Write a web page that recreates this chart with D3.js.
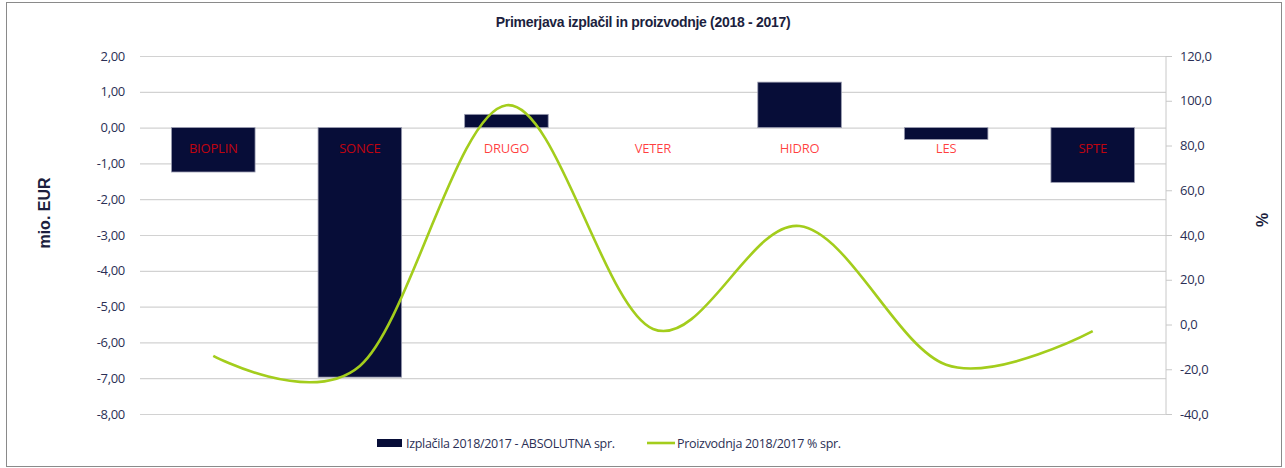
<!DOCTYPE html>
<html>
<head>
<meta charset="utf-8">
<script src="https://cdn.jsdelivr.net/npm/d3@7"></script>
<style>
  html, body { margin: 0; padding: 0; background: #fff; }
</style>
</head>
<body>
<div id="chart"></div>
<script>
const categories = ["BIOPLIN", "SONCE", "DRUGO", "VETER", "HIDRO", "LES", "SPTE"];
const payouts = [-1.24, -6.97, 0.37, 0, 1.27, -0.33, -1.53];      // mio. EUR
const production = [-14, -18.5, 98, -2, 44, -18, -3];             // %
const leftTicks = [2, 1, 0, -1, -2, -3, -4, -5, -6, -7, -8];
const rightTicks = [120, 100, 80, 60, 40, 20, 0, -20, -40];
const seriesNames = ["Izplačila 2018/2017 - ABSOLUTNA spr.", "Proizvodnja 2018/2017 % spr."];
const title = "Primerjava izplačil in proizvodnje (2018  - 2017)";

const W = 1285, H = 468;
const plot = { left: 140, right: 1166, top: 56, bottom: 414 };
const navy = "#070d38", green = "#a3cd1c", txt = "#2b2f55";

const svg = d3.select("#chart").append("svg")
    .attr("width", W).attr("height", H);

svg.append("rect")
    .attr("x", 6.5).attr("y", 2.5).attr("width", 1275).attr("height", 464)
    .attr("fill", "#fff").attr("stroke", "#8a8a8a");

const x = d3.scaleBand().domain(categories).range([plot.left, plot.right]).paddingInner(0.43).paddingOuter(0.215);
const xc = d3.scaleBand().domain(categories).range([plot.left, plot.right]);
const yL = d3.scaleLinear().domain([-8, 2]).range([plot.bottom, plot.top]);
const yR = d3.scaleLinear().domain([-40, 120]).range([plot.bottom, plot.top]);

const fmtL = v => d3.format(".2f")(v).replace(".", ",").replace("−", "-");
const fmtR = v => d3.format(".1f")(v).replace(".", ",").replace("−", "-");

// gridlines + left labels
const gl = svg.append("g").attr("transform", `translate(${plot.left},0)`)
    .call(d3.axisLeft(yL).tickValues(leftTicks).tickSize(-(plot.right - plot.left)).tickPadding(15).tickFormat(fmtL));
gl.select(".domain").remove();
gl.selectAll(".tick line").attr("stroke", "#d2d2d2").attr("stroke-width", 1.2);
gl.selectAll(".tick text").attr("fill", txt).style("font", "13px 'Open Sans', sans-serif").attr("letter-spacing", "-0.3");

// right axis
const gr = svg.append("g").attr("transform", `translate(${plot.right},0)`)
    .call(d3.axisRight(yR).tickValues(rightTicks).tickSize(6).tickPadding(8).tickFormat(fmtR));
gr.select(".domain").attr("stroke", "#c8c8c8").attr("d", `M0,${plot.top}V${plot.bottom}`);
gr.selectAll(".tick line").attr("stroke", "#c8c8c8");
gr.selectAll(".tick text").attr("fill", txt).style("font", "13px 'Open Sans', sans-serif").attr("letter-spacing", "-0.3");

// bars
svg.append("g").selectAll("rect").data(categories).join("rect")
    .attr("x", d => x(d))
    .attr("width", x.bandwidth())
    .attr("y", (d, i) => yL(Math.max(0, payouts[i])))
    .attr("height", (d, i) => Math.abs(yL(payouts[i]) - yL(0)))
    .attr("fill", navy)
    .attr("stroke", (d, i) => payouts[i] === 0 ? "none" : "#9a9cb0")
    .attr("stroke-width", 0.8);

// category labels
svg.append("g").selectAll("text").data(categories).join("text")
    .attr("x", d => xc(d) + xc.bandwidth() / 2)
    .attr("y", 153)
    .attr("text-anchor", "middle")
    .attr("fill", "#ff0000").attr("fill-opacity", 0.75)
    .style("font", "13px 'Open Sans', sans-serif")
    .attr("letter-spacing", "-0.2")
    .text(d => d);

// line
const line = d3.line()
    .x((d, i) => xc(categories[i]) + xc.bandwidth() / 2)
    .y(d => yR(d))
    .curve(d3.curveCardinal.tension(0));
svg.append("path").datum(production)
    .attr("d", line)
    .attr("fill", "none").attr("stroke", green).attr("stroke-width", 2.6);

// title
svg.append("text").attr("x", 643).attr("y", 27).attr("text-anchor", "middle")
    .attr("fill", "#1c1f3e").style("font", "bold 14px 'Liberation Sans', Arial, sans-serif")
    .attr("letter-spacing", "-0.3")
    .text(title);

// axis titles
svg.append("text").attr("transform", "translate(50,213) rotate(-90)").attr("text-anchor", "middle")
    .attr("fill", "#1c1f3e").style("font", "bold 16px 'Liberation Sans', Arial, sans-serif")
    .text("mio. EUR");
svg.append("text").attr("transform", "translate(1268,220) rotate(-90)").attr("text-anchor", "middle")
    .attr("fill", "#1c1f3e").style("font", "bold 16px 'Liberation Sans', Arial, sans-serif")
    .text("%");

// legend
const lg = svg.append("g").attr("transform", "translate(0,443)");
lg.append("rect").attr("x", 377).attr("y", -4).attr("width", 25).attr("height", 8).attr("fill", navy);
lg.append("text").attr("x", 406).attr("y", 5).attr("fill", txt)
    .style("font", "12.5px 'Open Sans', sans-serif").attr("letter-spacing", "-0.3").text(seriesNames[0]);
lg.append("line").attr("x1", 647).attr("x2", 675).attr("y1", 0).attr("y2", 0)
    .attr("stroke", green).attr("stroke-width", 2.6);
lg.append("text").attr("x", 677).attr("y", 5).attr("fill", txt)
    .style("font", "12.5px 'Open Sans', sans-serif").attr("letter-spacing", "-0.3").text(seriesNames[1]);
</script>
</body>
</html>
